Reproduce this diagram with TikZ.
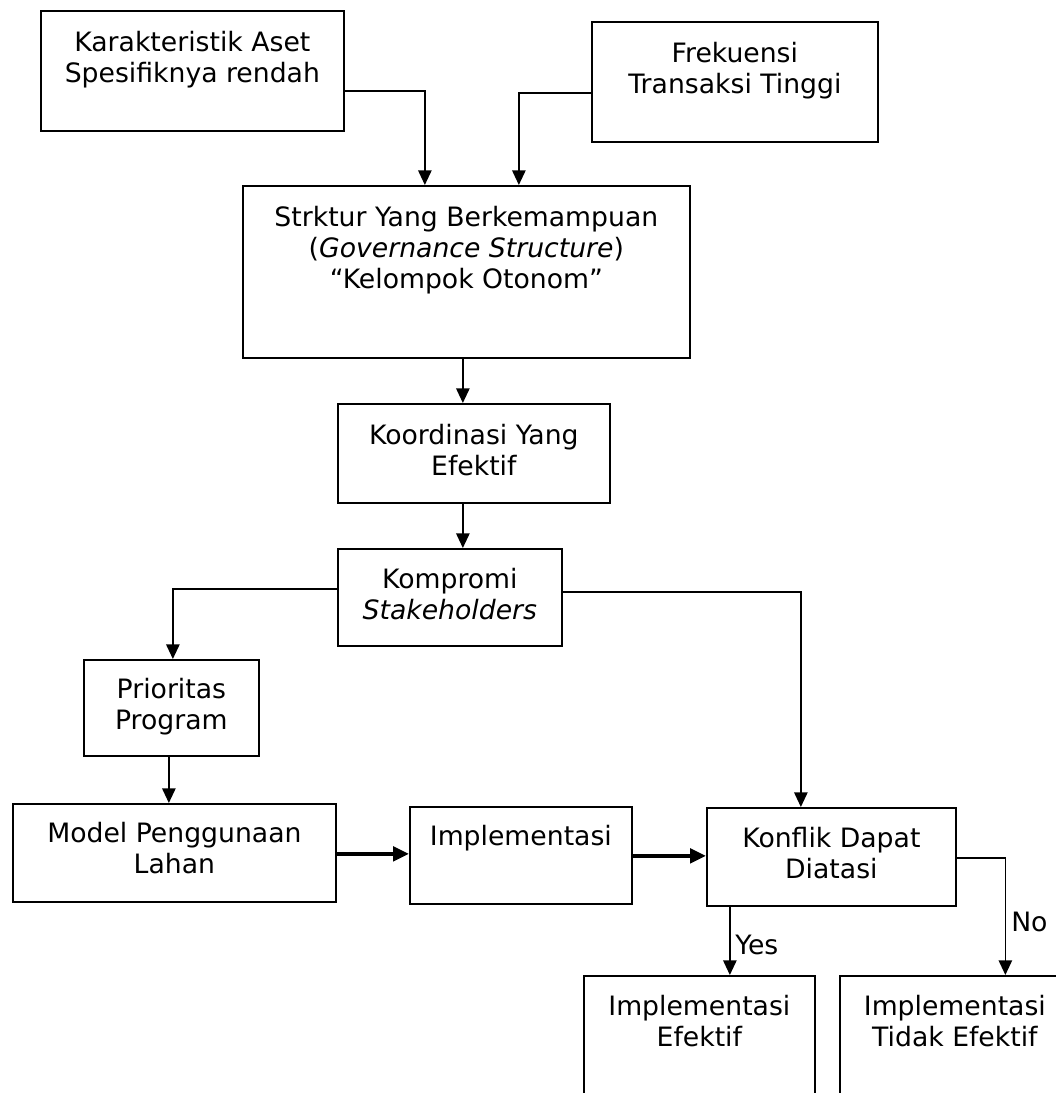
\documentclass[tikz,border=0pt]{standalone}
\usepackage{fontspec}
\setmainfont{DejaVu Sans}
\usetikzlibrary{arrows.meta,calc}
\begin{document}
\begin{tikzpicture}[x=0.75pt,y=-0.75pt,
  box/.style={draw, line width=1.3pt, rectangle, inner sep=0pt, anchor=north west},
  sz/.style 2 args={minimum width=#1*0.75pt, minimum height=#2*0.75pt},
  txt/.style={anchor=north, inner sep=0pt, align=center, font=\fontsize{20pt}{23.25pt}\selectfont},
  arr/.style={line width=1.3pt, -{Triangle[length=11pt,width=10pt]}},
  thickarr/.style={line width=2.6pt, -{Triangle[length=12pt,width=11pt]}},
  lbl/.style={anchor=west, inner sep=0pt, font=\fontsize{20pt}{23.25pt}\selectfont}]
\useasboundingbox (0,0) rectangle (1056,1093);
\clip (0,0) rectangle (1056,1093);
\fill[white] (0,0) rectangle (1056,1093);

% boxes
\node[box, sz={303}{120}] (k1) at (40,10) {};
\node[box, sz={286}{120}] (k2) at (591,21) {};
\node[box, sz={447}{172}] (k3) at (242,185) {};
\node[box, sz={272}{99}] (k4) at (337,403) {};
\node[box, sz={224}{97}] (k5) at (337,548) {};
\node[box, sz={175}{96}] (k6) at (83,659) {};
\node[box, sz={323}{98}] (k7) at (12,803) {};
\node[box, sz={222}{97}] (k8) at (409,806) {};
\node[box, sz={249}{98}] (k9) at (706,807) {};
\node[box, sz={231}{135}] (k10) at (583,975) {};
\node[box, sz={230}{135}] (k11) at (839,975) {};

% texts
\node[txt] (t1) at ($(k1.north)+(0,21)$) {Karakteristik Aset\\Spesifiknya rendah};
\node[txt] (t2) at ($(k2.north)+(0,21)$) {Frekuensi\\Transaksi Tinggi};
\node[txt] (t3) at ($(k3.north)+(0,21)$) {Strktur Yang Berkemampuan\\(\textit{Governance Structure})\\“Kelompok Otonom”};
\node[txt] (t4) at ($(k4.north)+(0,21)$) {Koordinasi Yang\\Efektif};
\node[txt] (t5) at ($(k5.north)+(0,20)$) {Kompromi\\\textit{Stakeholders}};
\node[txt] (t6) at ($(k6.north)+(0,19)$) {Prioritas\\Program};
\node[txt] (t7) at ($(k7.north)+(0,19)$) {Model Penggunaan\\Lahan};
\node[txt] (t8) at ($(k8.north)+(0,19)$) {Implementasi};
\node[txt] (t9) at ($(k9.north)+(0,20)$) {Konflik Dapat\\Diatasi};
\node[txt] (t10) at ($(k10.north)+(0,20)$) {Implementasi\\Efektif};
\node[txt] (t11) at ($(k11.north)+(0,20)$) {Implementasi\\Tidak Efektif};

% connectors
\draw[arr] ($(k1.east)+(0,20)$) -| ($(k3.north)+(-41.5,0)$);
\draw[arr] ($(k2.west)+(0,11)$) -| ($(k3.north)+(52.5,0)$);
\draw[arr] ($(k3.south)+(-3.5,0)$) -- ($(k4.north)+(-11,0)$);
\draw[arr] ($(k4.south)+(-11,0)$) -- ($(k5.north)+(13,0)$);
\draw[arr] ($(k5.west)+(0,-8.5)$) -| ($(k6.north)+(1.5,0)$);
\draw[arr] ($(k5.east)+(0,-5.5)$) -| ($(k9.north)+(-30.5,0)$);
\draw[arr] ($(k6.south)+(-2.5,0)$) -- ($(k7.north)+(-5.5,0)$);
\draw[thickarr] ($(k7.east)+(0,1)$) coordinate (a1) -- (k8.west |- a1);
\draw[thickarr] ($(k8.east)+(0,0.5)$) coordinate (a2) -- (k9.west |- a2);
\draw[arr] ($(k9.south)+(-101.5,0)$) -- ($(k10.north)+(30.5,0)$);
\draw[arr] ($(k9.east)+(0,1)$) -| ($(k11.north)+(50.5,0)$);

% labels
\node[lbl] (yes) at (735,945) {Yes};
\node[lbl] (no) at (1011,922) {No};
\end{tikzpicture}
\end{document}
